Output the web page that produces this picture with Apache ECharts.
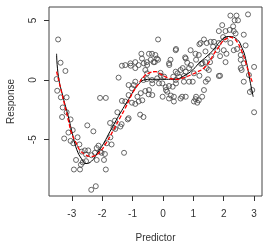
<!DOCTYPE html>
<html>
<head>
<meta charset="utf-8">
<script src="https://cdn.jsdelivr.net/npm/echarts@6/dist/echarts.min.js"></script>
<style>
html,body{margin:0;padding:0;background:#fff;}
#chart{width:268px;height:243px;}
</style>
</head>
<body>
<div id="chart"></div>
<script>
// observed points (Predictor, Response)
var ptX = [
    -3.45,-3.37,-3.21,-3.5,-3.48,-3.36,-3.17,-3.3,-3.17,-3.32,-3.04,-2.97,-3.11,-3.25,-3.04,-2.95,-2.81,-2.75,-2.49,-2.29,
    -2.67,-2.57,-2.46,-2.53,-2.86,-2.64,-2.7,-2.93,-2.73,-2.53,-2.35,-2.18,-2.24,-2.07,-2.18,-2.36,-2.21,-2.12,-2.02,-2.07,
    -1.94,-1.88,-1.91,-1.74,-1.58,-1.36,-1.63,-1.69,-1.28,-1.5,-1.16,-1.85,-1.57,-1.73,-1.4,-1.13,-1.24,-1.02,-1.35,-1.46,
    -1.88,-1.06,-1.24,-1.35,-1.07,-1.13,-1.13,-1.02,
    -0.91,-0.8,-0.75,-0.64,-0.16,-0.36,-0.25,-0.2,-0.71,-0.69,-0.91,-0.8,-0.63,-0.53,-0.31,-0.91,-0.58,-0.53,-0.36,-0.64,
    -0.91,-0.96,-0.58,-0.47,-0.46,-0.4,-0.27,-0.16,-0.52,-0.52,-0.35,-0.13,-0.46,-0.35,-0.73,-0.84,-0.68,-0.19,-0.08,-0.07,
    0.42,0.25,0.2,0.91,0.75,0.8,1.02,0.86,0.75,0.58,0.69,0.42,0.53,0.34,0.42,0.69,0.86,0.58,0.75,0.36,
    0.2,0.36,0.14,0.09,0.2,-0.02,0.43,0.21,0.73,0.92,0.04,0.48,0.65,0.98,0.43,0.32,0.1,-0.01,0.26,0.63,
    1.07,1.18,1.4,1.24,1.35,1.44,1.57,1.68,1.65,1.84,1.98,1.84,1.95,1.79,1.88,1.59,1.4,1.55,1.26,1.84,
    1.48,1.44,1.51,1.35,1.29,1.18,1.07,1.02,1.13,1.2,1.09,1.3,1.2,1.09,1.41,1.88,
    2.06,2.22,2.42,2.36,2.47,2.31,2.2,2.33,2.39,2.66,2.8,2.06,2.22,2.0,2.33,2.44,2.72,2.56,2.09,2.06,
    2.56,2.66,3.0,2.56,2.83,2.66,2.94,2.86,3.0,2.59
];
var ptY = [
    3.4,1.45,0.76,0.08,-0.9,-1.45,-1.45,-2.3,-2.7,-3.1,-3.3,-4.2,-4.4,-4.9,-5.1,-5.3,-4.8,-5.4,-3.8,-4.3,
    -6.0,-5.9,-5.9,-6.25,-6.7,-6.9,-7.1,-7.5,-7.5,-6.8,-6.3,-5.7,-6.1,-6.0,-6.7,-9.2,-8.9,-5.5,-6.1,-1.5,
    -6.7,-7.5,-6.2,-3.6,-3.4,-3.7,-4.0,-5.4,-6.1,-2.7,-3.3,-5.3,-4.1,-4.8,-3.9,-3.2,-1.8,-1.9,-1.75,0.2,
    -1.5,1.2,1.25,1.2,1.4,-1.26,-0.42,-0.7,
    -2.0,-1.8,-2.9,-3.1,3.4,2.2,2.1,1.8,2.2,1.8,1.5,1.25,1.4,1.5,1.5,1.0,0.84,0.08,0.0,0.0,
    -0.14,-0.42,-0.92,-1.2,2.2,1.7,1.5,1.7,1.26,0.56,-0.28,-0.28,-0.84,-1.26,-1.1,-1.4,-1.7,0.14,0.6,0.36,
    2.5,1.7,1.4,2.5,1.8,1.45,0.56,1.0,0.7,0.84,0.34,0.7,0.28,0.28,0.0,-0.14,-0.14,-1.55,-1.4,-1.4,
    -1.55,-1.8,-0.98,-0.6,-0.5,-0.28,2.6,1.26,1.9,1.26,0.28,0.56,1.0,-0.14,-0.28,-0.56,-0.84,-1.4,-1.3,-1.4,
    2.2,2.1,2.4,3.1,3.4,3.1,3.2,3.2,2.8,3.1,3.6,4.1,4.6,2.5,2.0,2.0,1.5,1.5,1.35,0.34,
    0.06,1.0,0.84,-0.84,-1.4,-1.7,-1.6,-1.8,-1.9,3.0,1.7,1.4,0.36,-1.4,-0.14,0.36,
    4.1,5.4,5.4,5.0,5.0,4.5,4.2,4.1,3.9,3.8,5.5,3.4,3.1,2.5,2.5,2.6,2.9,2.1,2.2,1.5,
    1.7,1.4,1.1,1.0,0.42,-0.14,-0.84,-1.0,-2.7,0.84
];
// black solid curve
var blackX = [-3.5,-3.44,-3.3,-3.11,-2.98,-2.84,-2.68,-2.53,-2.35,-2.18,-1.95,-1.74,-1.41,-1.08,-0.95,-0.8,-0.63,-0.4,0.0,0.36,0.69,1.0,1.18,1.45,1.65,1.95,2.17,2.44,2.6,2.72,2.88,2.97];
var blackY = [2.2,0.3,-1.3,-3.1,-4.5,-5.8,-6.6,-7.0,-6.8,-6.2,-5.3,-4.3,-2.8,-1.4,-0.84,-0.35,0.0,0.06,0.06,0.06,0.34,0.9,1.4,2.0,2.5,3.4,3.65,3.4,2.7,1.8,-0.28,-1.4];
// red dashed curve
var redX = [-3.5,-3.3,-3.11,-3.0,-2.85,-2.73,-2.55,-2.4,-2.25,-2.07,-1.85,-1.63,-1.42,-1.25,-1.1,-0.98,-0.8,-0.63,-0.45,-0.24,-0.05,0.2,0.47,0.7,0.91,1.15,1.35,1.52,1.68,1.82,1.95,2.08,2.2,2.32,2.44,2.58,2.72,2.84,2.94];
var redY = [0.7,-1.4,-3.4,-4.5,-5.3,-5.9,-6.25,-6.4,-6.35,-6.0,-5.2,-4.2,-3.2,-2.4,-1.6,-1.0,-0.3,0.28,0.6,0.7,0.45,0.15,0.06,0.2,0.42,0.7,1.0,1.5,2.2,2.7,3.2,3.45,3.6,3.5,3.2,2.5,1.5,0.5,-0.14];
var xTicks = [-3,-2,-1,0,1,2,3];
var yTicks = [-5,0,5];

function pairs(xs, ys) {
    var out = [];
    for (var i = 0; i < xs.length; i++) out.push([xs[i], ys[i]]);
    return out;
}

var chart = echarts.init(document.getElementById('chart'), null, {renderer: 'canvas'});
var txt = {color: '#333', fontFamily: 'Liberation Sans, Arial, sans-serif', fontSize: 10};
var option = {
    animation: false,
    grid: {
        left: 49, right: 6, top: 7, bottom: 47,
        containLabel: false, outerBoundsMode: 'none',
        show: true, borderColor: '#444', borderWidth: 1
    },
    xAxis: {
        type: 'value', min: -3.75, max: 3.26,
        name: 'Predictor', nameLocation: 'middle', nameGap: 37,
        nameTextStyle: txt,
        axisLine: {show: false, onZero: false},
        axisTick: {show: true, length: 5, customValues: xTicks, lineStyle: {color: '#333'}},
        axisLabel: Object.assign({margin: 13, customValues: xTicks}, txt),
        splitLine: {show: false}
    },
    yAxis: {
        type: 'value', min: -9.72, max: 6.12,
        name: 'Response', nameLocation: 'middle', nameGap: 33, nameRotate: 90,
        nameTextStyle: txt,
        axisLine: {show: false, onZero: false},
        axisTick: {show: true, length: 5, customValues: yTicks, lineStyle: {color: '#333'}},
        axisLabel: Object.assign({margin: 11, rotate: 90, customValues: yTicks}, txt),
        splitLine: {show: false}
    },
    series: [
        {
            type: 'scatter',
            data: pairs(ptX, ptY),
            symbol: 'circle',
            symbolSize: 5,
            itemStyle: {color: 'rgba(255,255,255,0)', borderColor: '#444', borderWidth: 1},
            z: 2
        },
        {
            type: 'line',
            data: pairs(blackX, blackY),
            smooth: true,
            showSymbol: false,
            lineStyle: {color: '#000', width: 1},
            z: 3
        },
        {
            type: 'line',
            data: pairs(redX, redY),
            smooth: true,
            showSymbol: false,
            lineStyle: {color: '#ff0000', width: 1.3, type: [4, 2]},
            z: 4
        }
    ]
};
chart.setOption(option);
</script>
</body>
</html>
